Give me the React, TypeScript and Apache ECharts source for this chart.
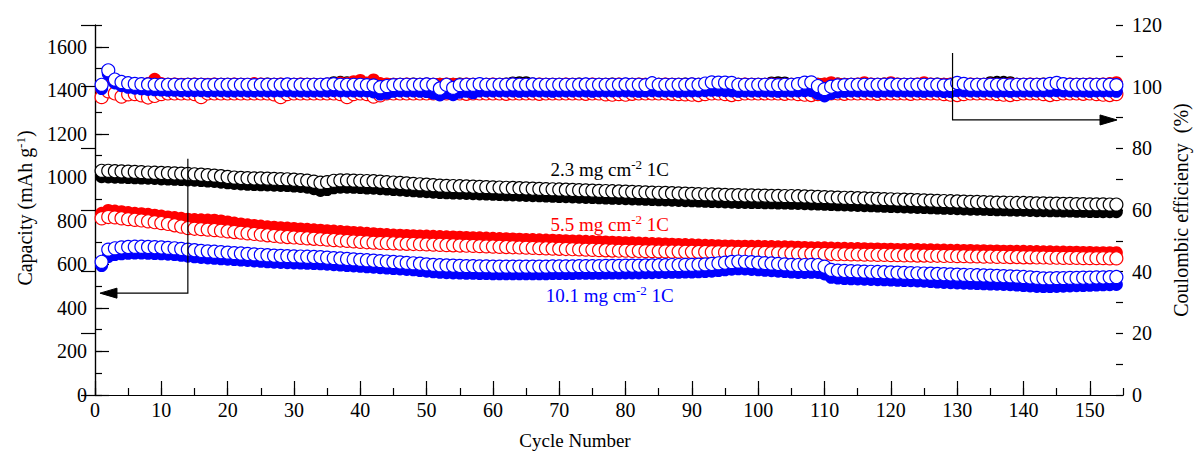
import React, { useEffect, useRef } from "react";
import * as echarts from "echarts";

// Cycle numbers 1..154
const cycles: number[] = Array.from({ length: 154 }, (_, i) => i + 1);

// Capacity (mAh g-1)
const blackCharge = [
  1030,1030,1028,1027,1026,1025,1024,1022,1021,1020,
  1019,1018,1017,1016,1014,1012,1010,1008,1005,1002,
  999,997,996,995,995,994,993,992,991,989,
  987,985,980,975,978,984,986,986,985,984,
  983,982,980,978,976,974,972,970,968,966,
  964,962,961,960,959,958,957,956,955,954,
  953,952,951,950,949,948,947,946,945,944,
  943,942,941,940,939,938,937,936,935,934,
  933,932,931,930,929,928,927,926,925,924,
  923,922,921,920,919,918,918,917,917,916,
  916,915,915,914,914,913,912,911,910,909,
  908,907,906,905,904,903,902,901,900,899,
  898,897,896,895,894,893,892,891,890,889,
  888,887,887,886,885,884,884,883,882,882,
  881,880,880,879,879,878,878,877,877,876,
  876,876,875,875,
];
const blackDischarge = [
  1003,1002,1001,1000,999,998,997,996,995,993,
  992,991,990,988,987,985,983,981,978,975,
  972,970,968,967,966,965,964,963,962,960,
  958,955,948,940,944,952,955,955,954,953,
  951,950,948,946,944,942,940,938,936,934,
  932,930,929,928,927,926,925,924,923,922,
  921,920,919,918,917,916,915,914,913,912,
  911,910,909,908,907,906,905,904,903,902,
  901,900,899,898,897,896,895,894,893,892,
  891,890,889,888,887,886,885,885,884,884,
  883,883,882,882,881,880,879,878,877,876,
  875,874,873,872,871,870,869,868,867,866,
  865,864,863,862,861,860,859,858,857,856,
  855,854,854,853,852,851,851,850,849,849,
  848,847,847,846,846,845,845,844,844,843,
  843,842,842,842,
];
const redDischarge = [
  835,848,845,842,838,835,833,830,826,822,
  818,815,812,808,806,805,804,803,800,795,
  790,786,782,779,776,773,771,769,767,765,
  763,761,759,757,755,753,751,749,747,745,
  743,741,739,737,735,734,733,732,731,730,
  729,728,727,726,725,724,723,722,721,720,
  719,718,717,716,715,714,713,712,711,710,
  709,708,707,706,705,704,703,702,701,700,
  699,698,697,696,695,694,693,692,691,690,
  689,688,687,686,685,685,684,684,683,683,
  682,682,681,681,680,679,678,677,676,676,
  675,674,674,673,673,672,671,671,670,670,
  669,669,668,668,667,667,666,666,665,665,
  664,664,663,663,662,662,661,661,660,660,
  659,659,658,658,657,657,656,656,655,655,
  654,654,654,654,
];
const redCharge = [
  812,818,816,812,808,805,802,798,794,790,
  786,780,774,767,764,762,760,758,755,752,
  749,746,743,740,737,734,731,728,726,724,
  722,720,718,716,714,712,710,708,706,704,
  702,700,699,698,697,696,695,694,693,692,
  691,690,689,688,687,686,685,684,683,682,
  681,680,679,678,677,676,675,674,673,672,
  671,670,669,668,667,666,665,664,663,663,
  662,662,661,661,660,660,659,659,658,658,
  657,657,656,656,655,655,654,654,653,653,
  653,652,652,651,651,650,650,649,649,648,
  648,647,647,646,646,645,645,644,644,643,
  643,642,642,641,641,640,640,639,639,638,
  638,637,637,636,636,635,635,634,634,633,
  633,632,632,631,631,630,630,630,629,629,
  629,629,628,628,
];
const blueCharge = [
  612,668,674,678,680,681,681,680,679,678,
  676,674,671,668,665,662,660,658,656,654,
  652,650,648,646,644,642,640,639,638,637,
  636,635,634,633,631,629,627,625,623,621,
  619,617,615,613,611,609,607,605,603,600,
  598,596,595,594,593,592,592,591,591,590,
  590,590,590,590,590,590,590,590,591,591,
  591,591,592,592,592,592,593,593,593,594,
  594,594,595,595,596,596,597,597,598,598,
  599,600,602,605,608,611,613,612,610,608,
  606,604,602,600,598,597,597,598,597,590,
  575,571,570,569,568,567,566,565,564,563,
  562,561,560,559,558,557,556,555,554,553,
  552,551,550,549,548,547,546,545,544,542,
  540,538,536,536,537,537,538,538,539,539,
  540,540,541,542,
];
const blueDischarge = [
  595,636,645,649,651,652,652,651,650,649,
  647,645,642,638,635,632,630,628,626,624,
  622,620,618,616,614,612,610,609,608,607,
  606,605,604,603,601,599,597,595,593,591,
  589,587,585,583,581,579,577,575,572,569,
  566,564,562,561,560,559,559,558,558,557,
  557,557,557,557,557,557,557,557,558,558,
  558,558,559,559,559,559,560,560,560,561,
  561,561,562,562,563,563,564,564,565,565,
  566,567,569,572,575,578,580,579,577,575,
  573,571,569,567,565,563,563,564,563,556,
  541,537,535,534,533,532,531,530,529,528,
  527,526,525,524,523,521,519,517,516,515,
  514,513,512,511,510,509,508,507,505,503,
  501,499,498,498,499,500,501,502,503,504,
  505,506,507,508,
];

// Coulombic efficiency (%)
const blackCE = [
  100.2,101.0,100.9,100.8,100.8,100.8,100.7,100.8,100.8,100.7,
  100.8,100.8,100.7,100.8,100.8,100.8,100.7,100.8,100.8,100.8,
  100.8,100.8,100.7,100.8,100.8,100.9,100.8,100.8,100.7,100.8,
  100.8,100.8,100.8,99.2,100.6,101.3,101.4,101.3,100.8,100.8,
  100.9,100.8,100.8,100.7,100.8,100.8,100.8,100.9,100.8,100.8,
  100.8,100.8,100.8,100.8,100.9,100.8,100.8,100.8,100.8,100.8,
  100.8,100.9,101.2,101.3,101.3,100.9,100.8,100.8,100.8,100.8,
  100.8,100.8,100.9,100.8,100.8,100.8,100.8,100.9,100.8,100.8,
  100.8,100.8,100.8,100.9,100.8,100.8,100.8,100.8,100.9,100.8,
  100.8,100.8,100.8,100.8,100.8,100.9,100.8,100.8,100.8,100.8,
  100.8,101.2,101.3,101.2,100.8,100.8,100.8,100.8,100.8,100.8,
  100.8,100.9,100.8,100.8,100.8,100.8,100.8,100.8,100.9,100.8,
  100.8,100.8,100.8,100.8,100.8,100.8,100.9,100.8,100.8,100.8,
  100.8,100.8,100.8,100.8,101.3,101.4,101.4,101.3,100.8,100.8,
  100.8,100.8,100.9,100.8,100.8,100.8,100.8,100.8,100.8,100.8,
  100.8,100.8,100.8,100.8,
];
const redCEFilled = [
  99.0,100.6,100.8,100.9,100.8,100.8,100.9,101.0,102.4,101.0,
  100.8,100.9,100.8,100.8,100.9,100.8,100.8,100.9,100.8,100.8,
  100.9,100.8,100.8,101.0,100.9,100.8,100.8,100.9,100.8,100.8,
  100.9,100.8,100.8,100.8,100.9,100.8,101.2,101.0,101.6,102.0,
  101.2,102.2,101.0,100.9,100.8,100.8,100.9,100.8,100.8,100.9,
  100.8,100.8,100.9,100.8,100.8,100.9,100.8,100.8,100.8,100.9,
  100.8,100.8,100.9,100.8,100.8,100.8,100.9,100.8,100.8,100.8,
  100.9,100.8,100.8,100.8,100.9,100.8,100.8,100.8,100.9,100.8,
  100.8,100.9,100.8,100.8,100.8,100.9,100.8,100.8,100.8,100.9,
  100.8,100.8,100.8,100.9,100.8,100.8,100.8,100.9,100.8,100.8,
  100.8,100.9,100.8,100.8,100.8,100.9,100.8,100.8,100.8,100.9,
  101.3,100.9,100.8,100.8,100.9,101.3,100.9,100.8,100.9,101.3,
  100.9,100.8,100.8,100.9,101.3,100.9,100.8,100.8,100.9,100.8,
  100.8,100.9,100.8,100.8,100.9,100.8,100.8,100.9,100.8,100.8,
  100.9,100.8,100.8,100.9,100.8,100.8,100.9,100.8,100.8,100.9,
  100.8,100.9,101.0,101.3,
];
const redCEOpen = [
  96.6,98.5,97.8,96.8,97.5,97.6,97.2,96.5,97.0,97.6,
  97.8,97.8,97.8,97.8,97.6,96.6,97.8,97.8,97.8,97.8,
  97.8,97.8,97.8,97.8,97.8,97.8,97.5,96.6,97.6,97.8,
  97.8,97.8,97.8,97.8,97.8,97.8,97.6,96.6,97.6,97.8,
  97.6,96.8,97.2,97.8,97.8,97.8,97.8,97.8,97.8,97.8,
  97.8,97.7,97.8,97.8,97.8,97.7,97.8,97.8,97.8,97.8,
  97.8,97.7,97.8,97.8,97.8,97.8,97.7,97.8,97.8,97.8,
  97.8,97.8,97.8,97.7,97.8,97.8,97.5,97.4,97.6,97.4,
  97.7,97.8,97.8,97.8,97.8,97.8,97.7,97.6,97.5,97.4,
  97.3,97.6,97.8,97.8,97.6,97.3,97.6,97.8,97.8,97.8,
  97.8,97.8,97.8,97.7,97.8,97.6,97.4,97.3,97.6,97.8,
  97.8,97.8,97.7,97.8,97.8,97.8,97.8,97.7,97.8,97.8,
  97.8,97.8,97.7,97.8,97.8,97.8,97.8,97.6,97.4,97.3,
  97.6,97.8,97.8,97.8,97.8,97.6,97.4,97.3,97.6,97.8,
  97.8,97.8,97.6,97.3,97.6,97.8,97.8,97.8,97.7,97.8,
  97.6,97.4,97.3,97.6,
];
const blueCEOpen = [
  100.6,105.3,102.3,101.5,101.1,100.9,100.8,100.7,100.6,100.6,
  100.6,100.6,100.5,100.6,100.6,100.6,100.5,100.6,100.6,100.6,
  100.6,100.6,100.6,100.5,100.6,100.6,100.6,100.6,100.7,100.6,
  100.6,100.6,100.6,100.6,100.7,100.8,100.6,100.6,100.6,100.6,
  100.5,100.4,99.8,100.2,100.5,100.6,100.6,100.6,100.6,100.7,
  100.6,99.4,100.6,99.6,100.5,100.6,100.6,100.8,100.6,100.6,
  100.6,100.6,100.7,100.6,100.6,100.7,100.6,100.6,100.6,100.6,
  100.6,100.6,100.6,100.7,100.6,100.6,100.6,100.6,100.6,100.7,
  100.6,100.6,100.5,101.1,100.6,100.6,100.6,100.6,100.6,100.7,
  100.6,101.0,101.4,101.3,101.3,101.2,100.6,100.6,100.6,100.6,
  100.6,100.6,100.5,100.6,100.6,100.8,101.3,101.4,100.2,99.2,
  100.0,100.4,100.5,100.6,100.6,100.6,100.6,100.6,100.6,100.7,
  100.6,100.6,100.6,100.6,100.6,100.6,100.6,100.4,100.5,101.2,
  100.9,100.6,100.6,100.6,100.6,100.6,100.6,100.5,100.6,100.6,
  100.6,100.6,100.6,100.9,101.2,100.8,100.6,100.6,100.6,100.6,
  100.6,100.6,100.6,100.5,
];
const blueCEFilled = [
  99.4,104.2,101.2,100.3,99.8,99.5,99.3,99.1,99.0,98.9,
  98.8,98.8,98.7,98.7,98.7,98.7,98.6,98.7,98.7,98.6,
  98.6,98.7,98.6,98.6,98.7,98.6,98.6,98.6,98.7,98.6,
  98.6,98.6,98.6,98.6,98.6,98.7,98.6,98.6,98.6,98.6,
  98.6,98.3,97.6,97.9,98.5,98.6,98.6,98.6,98.5,98.4,
  97.9,97.3,98.0,97.4,98.2,98.5,98.0,98.6,98.6,98.6,
  98.6,98.6,98.6,98.5,98.6,98.6,98.6,98.6,98.5,98.6,
  98.6,98.6,98.6,98.6,98.5,98.6,98.6,98.6,98.6,98.6,
  98.6,98.5,98.6,98.7,98.6,98.6,98.6,98.5,98.6,98.6,
  98.6,98.7,98.8,98.8,98.7,98.6,98.5,98.6,98.6,98.6,
  98.6,98.6,98.5,98.6,98.6,98.6,98.7,98.7,97.8,97.0,
  97.8,98.3,98.5,98.6,98.6,98.6,98.6,98.5,98.6,98.6,
  98.6,98.6,98.6,98.6,98.5,98.6,98.6,98.4,98.4,98.7,
  98.6,98.6,98.6,98.6,98.6,98.5,98.6,98.5,98.6,98.6,
  98.6,98.6,98.6,98.6,98.7,98.6,98.6,98.6,98.6,98.5,
  98.6,98.6,98.6,98.5,
];

// Annotations (data coordinates)
const labels = [
  { text: "2.3 mg cm{s|-2} 1C", color: "#000000", cycle: 77.6, cap: 1038 },
  { text: "5.5 mg cm{s|-2} 1C", color: "#ff0000", cycle: 77.6, cap: 785 },
  { text: "10.1 mg cm{s|-2} 1C", color: "#0000ff", cycle: 77.6, cap: 455 },
];
const leftArrow = { cycle: 14, capTop: 1085, capBottom: 468, tipCycle: 0.75 };
const rightArrow = { cycle: 129.3, ceTop: 110.9, ceBottom: 89.2, tipCycle: 154.1 };

const FONT = "'Liberation Serif', 'Times New Roman', serif";

function pts(arr: number[]) {
  return cycles.map((c, i) => [c, arr[i]]);
}

function sc(name: string, arr: number[], yAxisIndex: number, color: string, filled: boolean) {
  return {
    type: "scatter",
    name,
    data: pts(arr),
    xAxisIndex: 0,
    yAxisIndex,
    symbol: "circle",
    symbolSize: 13,
    silent: true,
    itemStyle: filled
      ? { color, opacity: 1 }
      : { color: "#ffffff", borderColor: color, borderWidth: 1.2, opacity: 1 },
  };
}

const tickText = { fontFamily: FONT, fontSize: 20, color: "#000000" };
const plain = (v: number) => "{t|" + String(v) + "}";

export default function App() {
  const ref = useRef<HTMLDivElement>(null);
  useEffect(() => {
    if (!ref.current) return;
    const chart = echarts.init(ref.current, undefined, { renderer: "svg" });
    const axisLine = { show: true, lineStyle: { color: "#000", width: 1.2 } };
    const labelStyle = { ...tickText, formatter: plain, rich: { t: { ...tickText } } };
    const option: any = {
      animation: false,
      backgroundColor: "#ffffff",
      textStyle: { fontFamily: FONT },
      grid: { left: 95, right: 75, top: 25, bottom: 59, containLabel: false },
      xAxis: [
        {
          type: "value", position: "bottom", min: 0, max: 155, interval: 10,
          axisLine, splitLine: { show: false },
          axisTick: { show: true, inside: true, length: 14, lineStyle: { color: "#000", width: 1.2 } },
          axisLabel: { ...labelStyle, margin: 5, showMaxLabel: false },
        },
        {
          type: "value", position: "bottom", min: 0, max: 155, interval: 5,
          axisLine: { show: false }, splitLine: { show: false },
          axisTick: { show: true, inside: true, length: 7, lineStyle: { color: "#000", width: 1.2 } },
          axisLabel: { show: false },
        },
        {
          type: "value", position: "top", min: 0, max: 155, interval: 5,
          axisLine, splitLine: { show: false },
          axisTick: { show: true, inside: false, length: 2, lineStyle: { color: "#000", width: 1 } },
          axisLabel: { show: false },
        },
      ],
      yAxis: [
        {
          type: "value", position: "left", min: 0, max: 1700, interval: 200,
          axisLine, splitLine: { show: false },
          axisTick: { show: true, inside: true, length: 14, lineStyle: { color: "#000", width: 1.2 } },
          axisLabel: { ...labelStyle, margin: 8, showMaxLabel: false },
        },
        {
          type: "value", position: "left", min: 0, max: 1700, interval: 100,
          axisLine: { show: false }, splitLine: { show: false },
          axisTick: { show: true, inside: true, length: 7, lineStyle: { color: "#000", width: 1.2 } },
          axisLabel: { show: false },
        },
        {
          type: "value", position: "right", min: 0, max: 120, interval: 20,
          axisLine, splitLine: { show: false },
          axisTick: { show: true, inside: true, length: 14, lineStyle: { color: "#000", width: 1.2 } },
          axisLabel: { ...labelStyle, margin: 9 },
        },
        {
          type: "value", position: "right", min: 0, max: 120, interval: 10,
          axisLine: { show: false }, splitLine: { show: false },
          axisTick: { show: true, inside: true, length: 7, lineStyle: { color: "#000", width: 1.2 } },
          axisLabel: { show: false },
        },
      ],
      series: [
        sc("2.3 discharge", blackDischarge, 0, "#000000", true),
        sc("2.3 charge", blackCharge, 0, "#000000", false),
        sc("5.5 discharge", redDischarge, 0, "#ff0000", true),
        sc("5.5 charge", redCharge, 0, "#ff0000", false),
        sc("10.1 discharge", blueDischarge, 0, "#0000ff", true),
        sc("10.1 charge", blueCharge, 0, "#0000ff", false),
        sc("2.3 CE", blackCE, 2, "#000000", true),
        sc("5.5 CE", redCEFilled, 2, "#ff0000", true),
        sc("5.5 CE open", redCEOpen, 2, "#ff0000", false),
        sc("10.1 CE", blueCEFilled, 2, "#0000ff", true),
        sc("10.1 CE open", blueCEOpen, 2, "#0000ff", false),
      ],
    };
    chart.setOption(option);

    const pc = (x: number, y: number) => chart.convertToPixel({ xAxisIndex: 0, yAxisIndex: 0 }, [x, y]) as number[];
    const pe = (x: number, y: number) => chart.convertToPixel({ xAxisIndex: 0, yAxisIndex: 2 }, [x, y]) as number[];

    const la1 = pc(leftArrow.cycle, leftArrow.capTop);
    const la2 = pc(leftArrow.cycle, leftArrow.capBottom);
    const laTip = pc(leftArrow.tipCycle, leftArrow.capBottom);
    const ra1 = pe(rightArrow.cycle, rightArrow.ceTop);
    const ra2 = pe(rightArrow.cycle, rightArrow.ceBottom);
    const raTip = pe(rightArrow.tipCycle, rightArrow.ceBottom);
    const head = 17, half = 5;

    const sup = { fontFamily: FONT, fontSize: 13, padding: [0, 0, 10, 0] };
    const graphic: any[] = [
      {
        type: "polyline", z: 100, silent: true,
        shape: { points: [la1, la2, [laTip[0] + head, laTip[1]]] },
        style: { stroke: "#000", lineWidth: 1.2, fill: "none" },
      },
      {
        type: "polygon", z: 100, silent: true,
        shape: { points: [[laTip[0], laTip[1]], [laTip[0] + head, laTip[1] - half], [laTip[0] + head, laTip[1] + half]] },
        style: { fill: "#000", stroke: "#000" },
      },
      {
        type: "polyline", z: 100, silent: true,
        shape: { points: [ra1, ra2, [raTip[0] - head, raTip[1]]] },
        style: { stroke: "#000", lineWidth: 1.2, fill: "none" },
      },
      {
        type: "polygon", z: 100, silent: true,
        shape: { points: [[raTip[0], raTip[1]], [raTip[0] - head, raTip[1] - half], [raTip[0] - head, raTip[1] + half]] },
        style: { fill: "#000", stroke: "#000" },
      },
      ...labels.map((l) => {
        const p = pc(l.cycle, l.cap);
        return {
          type: "text", z: 100, silent: true, x: p[0], y: p[1],
          style: {
            text: l.text, fill: l.color, fontFamily: FONT, fontSize: 19,
            textAlign: "center", textVerticalAlign: "middle",
            rich: { s: { ...sup, fill: l.color } },
          },
        };
      }),
      {
        type: "text", z: 100, silent: true, x: 575, y: 440,
        style: { text: "Cycle Number", fill: "#000", fontFamily: FONT, fontSize: 19, textAlign: "center", textVerticalAlign: "middle" },
      },
      {
        type: "text", z: 100, silent: true, x: 25, y: 208, rotation: Math.PI / 2,
        style: {
          text: "Capacity (mAh g{s|-1})", fill: "#000", fontFamily: FONT, fontSize: 20,
          textAlign: "center", textVerticalAlign: "middle", rich: { s: { ...sup, fill: "#000" } },
        },
      },
      {
        type: "text", z: 100, silent: true, x: 1181, y: 210, rotation: Math.PI / 2,
        style: {
          text: "Coulombic efficiency  (%)", fill: "#000", fontFamily: FONT, fontSize: 20,
          textAlign: "center", textVerticalAlign: "middle",
        },
      },
    ];
    chart.setOption({ graphic });
    return () => chart.dispose();
  }, []);
  return (
    <div
      ref={ref}
      style={{ position: "fixed", left: 0, top: 0, width: 1198, height: 454, background: "#fff" }}
    />
  );
}
